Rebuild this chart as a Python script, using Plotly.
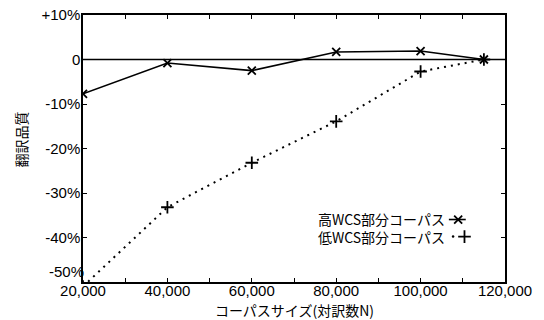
import plotly.graph_objects as go

corpus_size = [20000, 40000, 60000, 80000, 100000, 115000]
high_wcs = [-7.7, -0.8, -2.5, 1.7, 1.9, 0.0]
low_wcs = [-51.0, -33.2, -23.2, -13.9, -2.7, 0.0]
y_tickvals = [10, 0, -10, -20, -30, -40]
y_ticktext = ["+10%", "0", "-10%", "-20%", "-30%", "-40%"]
y_bottom_tickvals = [-50]
y_bottom_ticktext = ["-50%"]
x_tickvals = [20000, 40000, 60000, 80000, 100000, 120000]
x_ticktext = ["20,000", "40,000", "60,000", "80,000", "100,000", "120,000"]
series_names = ["高WCS部分コーパス", "低WCS部分コーパス"]
x_title = "コーパスサイズ(対訳数N)"
y_title = "翻訳品質"

FONT = "Liberation Sans, Arial, sans-serif"
JP = "Noto Sans CJK JP, sans-serif"

fig = go.Figure()
fig.add_trace(go.Scatter(
    x=corpus_size, y=low_wcs, mode="lines+markers", name=series_names[1],
    line=dict(color="black", width=2, dash="2px,5px"),
    marker=dict(symbol="cross-thin", size=9, line=dict(color="black", width=1.8)),
    showlegend=False, cliponaxis=True))
fig.add_trace(go.Scatter(
    x=corpus_size, y=high_wcs, mode="lines+markers", name=series_names[0],
    line=dict(color="black", width=1.6),
    marker=dict(symbol="x-thin", size=8, line=dict(color="black", width=1.8)),
    showlegend=False, cliponaxis=True))
# invisible companion trace so the bottom-label axis (y3) is drawn
fig.add_trace(go.Scatter(x=corpus_size, y=low_wcs, yaxis="y3", mode="lines",
                         line=dict(width=0), opacity=0, showlegend=False, hoverinfo="skip"))

# legend samples drawn on overlay axes spanning the plot area (0..1)
ly1, ly2 = 0.234, 0.170
fig.add_trace(go.Scatter(x=[0.867, 0.907], y=[ly1, ly1], mode="lines",
                         line=dict(color="black", width=1.6), xaxis="x2", yaxis="y2",
                         showlegend=False, hoverinfo="skip"))
fig.add_trace(go.Scatter(x=[0.889], y=[ly1], mode="markers",
                         marker=dict(symbol="x-thin", size=8, line=dict(color="black", width=1.8)),
                         xaxis="x2", yaxis="y2", showlegend=False, hoverinfo="skip"))
fig.add_trace(go.Scatter(x=[0.877], y=[ly2], mode="markers",
                         marker=dict(symbol="circle", size=2.5, color="black"),
                         xaxis="x2", yaxis="y2", showlegend=False, hoverinfo="skip"))
fig.add_trace(go.Scatter(x=[0.904], y=[ly2], mode="markers",
                         marker=dict(symbol="cross-thin", size=9, line=dict(color="black", width=1.8)),
                         xaxis="x2", yaxis="y2", showlegend=False, hoverinfo="skip"))

fig.add_annotation(x=0.863, y=(ly1 + ly2) / 2, xref="paper", yref="paper",
                   text="<br>".join(series_names), align="right",
                   showarrow=False, xanchor="right", yanchor="middle",
                   font=dict(family=JP, size=14, color="black"))

fig.add_annotation(x=0.502, y=-0.104, xref="paper", yref="paper", text=x_title,
                   showarrow=False, xanchor="center", yanchor="middle",
                   font=dict(family=JP, size=14, color="black"))
fig.add_annotation(x=-0.148, y=0.532, xref="paper", yref="paper", text=y_title,
                   showarrow=False, xanchor="center", yanchor="middle", textangle=-90,
                   font=dict(family=JP, size=14, color="black"))

fig.add_shape(type="line", xref="paper", yref="y", x0=0, x1=1, y0=0, y1=0,
              line=dict(color="black", width=1.5))

fig.update_layout(
    width=544, height=320,
    margin=dict(l=83, r=39, t=15, b=38),
    plot_bgcolor="white", paper_bgcolor="white",
    font=dict(family=FONT, size=15, color="black"),
    xaxis=dict(range=[20000, 120000], tickvals=x_tickvals, ticktext=x_ticktext,
               ticks="inside", ticklen=4, tickwidth=1, tickcolor="black",
               showline=True, linecolor="black", linewidth=1.5, mirror="allticks",
               showgrid=False, zeroline=False, automargin=False,
               ticklabelstandoff=-6,
               minor=dict(ticks="inside", dtick=10000, tick0=20000, ticklen=4, tickcolor="black"),
               tickfont=dict(size=15)),
    yaxis=dict(range=[-50, 10], tickvals=y_tickvals, ticktext=y_ticktext,
               ticks="inside", ticklen=4, tickwidth=1, tickcolor="black",
               showline=True, linecolor="black", linewidth=1.5, mirror="allticks",
               showgrid=False, zeroline=False, automargin=False,
               ticklabelstandoff=-2,
               tickfont=dict(size=15)),
    yaxis3=dict(range=[-50, 10], overlaying="y", side="left", anchor="x",
                tickvals=y_bottom_tickvals, ticktext=y_bottom_ticktext,
                ticks="", showline=False, showgrid=False, zeroline=False,
                automargin=False, ticklabelposition="outside top",
                ticklabelstandoff=-2, fixedrange=True,
                tickfont=dict(size=15)),
    xaxis2=dict(range=[0, 1], overlaying="x", visible=False, fixedrange=True),
    yaxis2=dict(range=[0, 1], overlaying="y", visible=False, fixedrange=True),
)

fig.write_html("out.html", config={"displayModeBar": False},
               post_script="document.body.style.margin='0';document.body.style.padding='0';")
